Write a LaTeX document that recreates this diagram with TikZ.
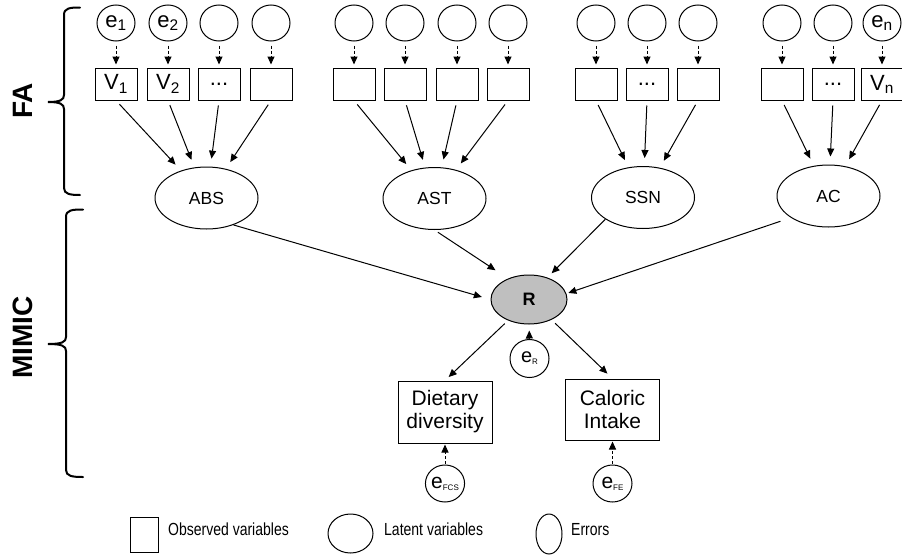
\documentclass[tikz,border=0pt]{standalone}
\usepackage{fontspec}
\setmainfont{Liberation Sans}
\usetikzlibrary{arrows.meta,shapes.geometric}
\newcommand\threedots{...}
\newcommand\tsub[1]{\raisebox{-2pt}{\fontsize{8}{8}\selectfont #1}}
\begin{document}
\begin{tikzpicture}[x=1pt,y=-1pt,
  err/.style={ellipse, draw, line width=1pt, minimum width=38pt, minimum height=36pt, inner sep=0pt, font=\fontsize{22}{22}\selectfont},
  obs/.style={rectangle, draw, line width=1pt, minimum width=42pt, minimum height=32pt, inner sep=0pt, font=\fontsize{22}{22}\selectfont},
  lat/.style={ellipse, draw, line width=1pt, minimum width=103pt, minimum height=62pt, inner sep=0pt, font=\fontsize{17.5}{17.5}\selectfont},
  outc/.style={rectangle, draw, line width=1pt, minimum width=94pt, minimum height=62pt, inner sep=0pt, align=center, font=\fontsize{21}{23}\selectfont},
  arr/.style={-{Triangle[length=8pt,width=7pt]}, line width=1pt},
  darr/.style={arr, dash pattern=on 3pt off 2pt},
  brace/.style={line width=2pt, line cap=round},
  side/.style={rotate=90, font=\fontsize{28}{28}\selectfont\bfseries},
  legtext/.style={anchor=base west, inner sep=0pt, font=\fontsize{17.5}{17.5}\selectfont}]
\useasboundingbox (0,0) rectangle (902,557);

% top rows: error circles and observed variables
\foreach \x/\n/\el/\vl in {
  116/1/{e\textsubscript{1}}/{V\textsubscript{1}},
  168/2/{e\textsubscript{2}}/{V\textsubscript{2}},
  219/3/{}/{\threedots},
  271/4/{}/{},
  354/5/{}/{}, 405/6/{}/{}, 457/7/{}/{}, 508/8/{}/{},
  596/9/{}/{}, 647/10/{}/{\threedots}, 698/11/{}/{},
  782/12/{}/{}, 833/13/{}/{\threedots}, 882/14/{e\textsubscript{n}}/{V\textsubscript{n}}}
{
  \node[err] (c\n) at (\x,23) {\el};
  \node[obs] (b\n) at (\x,84) {\vl};
}

% latent variables
\node[lat] (ABS) at (206.5,198) {ABS};
\node[lat] (AST) at (434.5,198.5) {AST};
\node[lat] (SSN) at (643,197.5) {SSN};
\node[lat] (AC)  at (828.5,196) {AC};

% R
\node[ellipse, draw, line width=1pt, fill=black!25, minimum width=76pt, minimum height=49pt, inner sep=0pt, font=\fontsize{18}{18}\selectfont\bfseries] (R) at (529,299.5) {R};
\node[err, minimum width=39pt, minimum height=38pt, font=\fontsize{20}{20}\selectfont] (eR) at (529.5,358.5) {e\tsub{R}};

% outcomes
\node[outc] (Diet) at (445,412) {Dietary\\diversity};
\node[outc, minimum height=61pt] (Cal) at (612.5,409.5) {Caloric\\Intake};
\node[err, minimum width=39pt, minimum height=37pt, font=\fontsize{21}{21}\selectfont] (eFCS) at (445,483.5) {e\tsub{FCS}};
\node[err, minimum width=39pt, minimum height=37pt, font=\fontsize{21}{21}\selectfont] (eFE) at (612.5,483.5) {e\tsub{FE}};

% error -> observed
\foreach \n in {1,...,14}
  \draw[darr, shorten <=4pt, shorten >=3pt] (c\n) -- (b\n);

% observed -> latent
\foreach \n/\L in {1/ABS,2/ABS,3/ABS,4/ABS,5/AST,6/AST,7/AST,8/AST,9/SSN,10/SSN,11/SSN,12/AC,13/AC,14/AC}
  \draw[arr, shorten <=5pt, shorten >=8pt] (b\n.south) -- (\L);

% latent -> R
\draw[arr, shorten >=9pt] (ABS.-45) -- (R.west);
\draw[arr, shorten <=4pt, shorten >=15pt] (AST.south) -- (R.135);
\draw[arr, shorten >=6pt] (SSN.210) -- (R.50);
\draw[arr, shorten <=11pt, shorten >=2pt] (AC.210) -- (R.9);

% R -> outcomes
\draw[arr, shorten <=4.5pt, shorten >=5pt] (R.-135) -- (Diet.north);
\draw[arr, shorten <=5pt, shorten >=7pt] (R.-42) -- (Cal.north);

% errors of R and outcomes
\draw[darr, shorten >=6pt] (eR) -- (R);
\draw[darr, shorten <=1pt, shorten >=1pt] (eFCS) -- (Diet);
\draw[darr, shorten <=1pt, shorten >=1pt] (eFE) -- (Cal);

% braces
\draw[brace] (80,7.5) .. controls (70,7.5) and (64,8) .. (64,15) -- (64,95)
  .. controls (64,100) and (60,102) .. (48,102)
  .. controls (60,102) and (64,104) .. (64,109) -- (64,188)
  .. controls (64,194) and (70,195) .. (80,195);
\draw[brace] (83,209.5) .. controls (72,209.5) and (66,210) .. (66,217) -- (66,337)
  .. controls (66,342) and (62,344) .. (48,344)
  .. controls (62,344) and (66,346) .. (66,351) -- (66,470)
  .. controls (66,476) and (72,477) .. (83,477);
\node[side] (FA) at (23,101) {FA};
\node[side] (MIMIC) at (22.5,337.5) {MIMIC};

% legend
\node[rectangle, draw, line width=1pt, minimum width=28pt, minimum height=35pt, inner sep=0pt] (legobs) at (144,534.5) {};
\node[legtext] (legobst) at (168,535) {\scalebox{0.8}[1]{Observed variables}};
\node[ellipse, draw, line width=1pt, minimum width=45pt, minimum height=39pt, inner sep=0pt] (leglat) at (350.5,533.5) {};
\node[legtext] (leglatt) at (384,535) {\scalebox{0.8}[1]{Latent variables}};
\node[ellipse, draw, line width=1pt, minimum width=26pt, minimum height=40pt, inner sep=0pt] (legerr) at (549,534) {};
\node[legtext] (legerrt) at (571,535) {\scalebox{0.8}[1]{Errors}};
\end{tikzpicture}
\end{document}
